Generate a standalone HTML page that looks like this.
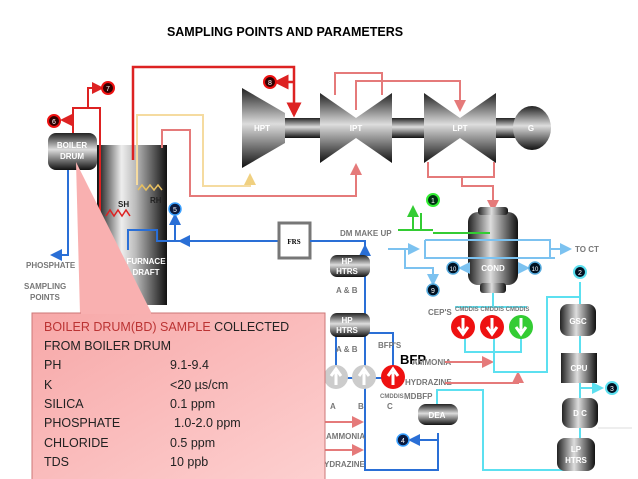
<!DOCTYPE html>
<html><head><meta charset="utf-8"><style>
html,body{margin:0;padding:0;background:#fff;}
svg{display:block;font-family:"Liberation Sans",Arial,sans-serif;}
.lb{font-size:8px;font-weight:bold;fill:#777;}
.w{font-size:8px;font-weight:bold;fill:#fff;}
</style></head><body>
<svg width="638" height="479" viewBox="0 0 638 479" xmlns="http://www.w3.org/2000/svg">
<defs>
<linearGradient id="cy" x1="0" y1="0" x2="0" y2="1"><stop offset="0" stop-color="#222"/><stop offset="0.45" stop-color="#ddd"/><stop offset="1" stop-color="#111"/></linearGradient>
<linearGradient id="cx" x1="0" y1="0" x2="1" y2="0"><stop offset="0" stop-color="#222"/><stop offset="0.45" stop-color="#ddd"/><stop offset="1" stop-color="#111"/></linearGradient>
<linearGradient id="fur" x1="0" y1="0" x2="1" y2="0"><stop offset="0" stop-color="#111"/><stop offset="0.35" stop-color="#eee"/><stop offset="0.55" stop-color="#bbb"/><stop offset="1" stop-color="#111"/></linearGradient>
<linearGradient id="pk" x1="0" y1="0" x2="1" y2="1"><stop offset="0" stop-color="#f7a8a8"/><stop offset="1" stop-color="#fdd0d0"/></linearGradient>
<marker id="ar" markerWidth="6" markerHeight="6" refX="5" refY="3" orient="auto"><path d="M0,0L6,3L0,6z" fill="#d22"/></marker>
<marker id="as" markerWidth="6" markerHeight="6" refX="5" refY="3" orient="auto"><path d="M0,0L6,3L0,6z" fill="#e57a7a"/></marker>
<marker id="ab" markerWidth="6" markerHeight="6" refX="5" refY="3" orient="auto"><path d="M0,0L6,3L0,6z" fill="#2a6fd6"/></marker>
<marker id="ac" markerWidth="6" markerHeight="6" refX="5" refY="3" orient="auto"><path d="M0,0L6,3L0,6z" fill="#5ce0f0"/></marker>
<marker id="al" markerWidth="6" markerHeight="6" refX="5" refY="3" orient="auto"><path d="M0,0L6,3L0,6z" fill="#7cc2f0"/></marker>
<marker id="ag" markerWidth="6" markerHeight="6" refX="5" refY="3" orient="auto"><path d="M0,0L6,3L0,6z" fill="#3c3"/></marker>
<marker id="ay" markerWidth="6" markerHeight="6" refX="5" refY="3" orient="auto"><path d="M0,0L6,3L0,6z" fill="#f0d080"/></marker>
</defs>
<text x="285" y="36" text-anchor="middle" font-size="12.5" font-weight="bold">SAMPLING POINTS AND PARAMETERS</text>

<!-- furnace -->
<rect x="97" y="145" width="70" height="160" fill="url(#fur)"/>
<!-- red steam -->
<polyline points="133,160 133,67 294,67 294,115" fill="none" stroke="#d22" stroke-width="2.5" marker-end="url(#ar)"/>
<polyline points="294,82 276,82" fill="none" stroke="#d22" stroke-width="2.5" marker-end="url(#ar)"/>
<polyline points="73,133 73,108 100,108 100,220" fill="none" stroke="#d22" stroke-width="2"/>
<polyline points="88,108 88,88 102,88" fill="none" stroke="#d22" stroke-width="2" marker-end="url(#ar)"/>
<polyline points="73,120 62,120" fill="none" stroke="#d22" stroke-width="2" marker-end="url(#ar)"/>
<polyline points="106,216 110,210 114,216 118,210 122,216 126,210 130,216" fill="none" stroke="#d22" stroke-width="1.5"/>
<!-- reheat -->
<polyline points="162,148 162,130 190,130 190,196 356,196 356,165" fill="none" stroke="#e57a7a" stroke-width="2" marker-end="url(#as)"/>
<polyline points="137,185 137,115 203,115 203,186 250,186 250,175" fill="none" stroke="#f5dba0" stroke-width="2" marker-end="url(#ay)"/>
<polyline points="138,190 142,185 146,190 150,185 154,190 158,185 162,190" fill="none" stroke="#e8c060" stroke-width="1.5"/>
<polyline points="335,95 335,73 382,73 382,95" fill="none" stroke="#e57a7a" stroke-width="2"/>
<polyline points="356,110 356,81 460,81 460,110" fill="none" stroke="#e57a7a" stroke-width="2" marker-end="url(#as)"/>
<polyline points="428,162 428,177 494,177 494,162" fill="none" stroke="#e57a7a" stroke-width="2"/>
<polyline points="462,177 462,186 493,186 493,210" fill="none" stroke="#e57a7a" stroke-width="2" marker-end="url(#as)"/>
<!-- turbines -->
<rect x="285" y="118" width="250" height="20" fill="url(#cy)"/>
<polygon points="242,88 285,113 285,143 242,168" fill="url(#cy)"/>
<polygon points="320,93 356,118 392,93 392,163 356,138 320,163" fill="url(#cy)"/>
<polygon points="424,93 460,118 496,93 496,163 460,138 424,163" fill="url(#cy)"/>
<ellipse cx="532" cy="128" rx="19" ry="22" fill="url(#cy)"/>
<text x="262" y="131" class="w" text-anchor="middle">HPT</text>
<text x="356" y="131" class="w" text-anchor="middle">IPT</text>
<text x="460" y="131" class="w" text-anchor="middle">LPT</text>
<text x="531" y="131" class="w" text-anchor="middle">G</text>
<!-- boiler drum -->
<rect x="48" y="133" width="49" height="37" rx="8" fill="url(#cy)"/>
<text x="72" y="148" class="w" text-anchor="middle" fill="#fff">BOILER</text>
<text x="72" y="159" class="w" text-anchor="middle">DRUM</text>
<text x="118" y="207" class="w" fill="#222" style="fill:#222">SH</text>
<text x="150" y="203" class="w" style="fill:#222">RH</text>
<text x="146" y="264" class="w" text-anchor="middle">FURNACE</text>
<text x="146" y="275" class="w" text-anchor="middle">DRAFT</text>
<!-- blue feed -->
<polyline points="68,170 68,255 52,255" fill="none" stroke="#2a6fd6" stroke-width="2" marker-end="url(#ab)"/>
<polyline points="300,241 157,241 157,230 128,230 128,250" fill="none" stroke="#2a6fd6" stroke-width="2"/>
<polyline points="175,241 175,215" fill="none" stroke="#2a6fd6" stroke-width="2" marker-end="url(#ab)"/>
<polyline points="186,241 180,241" fill="none" stroke="#2a6fd6" stroke-width="2" marker-end="url(#ab)"/>
<circle cx="175" cy="209" r="6" fill="#0a1a40" stroke="#3aa0ff" stroke-width="1.5"/><text x="175" y="212" font-size="7" fill="#fff" text-anchor="middle">5</text>
<rect x="279" y="223" width="31" height="35" fill="#fff" stroke="#777" stroke-width="3"/>
<text x="294" y="244" font-size="7" font-family="Liberation Serif" font-weight="bold" text-anchor="middle">FRS</text>
<polyline points="310,241 365,241 365,470 438,470 438,433" fill="none" stroke="#2a6fd6" stroke-width="2"/>
<line x1="365" y1="260" x2="365" y2="246" stroke="#2a6fd6" stroke-width="2" marker-end="url(#ab)"/>
<rect x="336" y="333" width="57" height="45" fill="none" stroke="#2a6fd6" stroke-width="2"/>
<polyline points="438,440 410,440" fill="none" stroke="#2a6fd6" stroke-width="2" marker-end="url(#ab)"/>
<circle cx="403" cy="440" r="6" fill="#0a1a40" stroke="#3aa0ff" stroke-width="1.5"/><text x="403" y="443" font-size="7" fill="#fff" text-anchor="middle">4</text>
<!-- heaters -->
<rect x="330" y="255" width="40" height="22" rx="7" fill="url(#cy)"/>
<text x="347" y="264" class="w" text-anchor="middle">HP</text><text x="347" y="274" class="w" text-anchor="middle">HTRS</text>
<text x="336" y="293" class="lb">A &amp; B</text>
<rect x="330" y="313" width="40" height="24" rx="7" fill="url(#cy)"/>
<text x="347" y="323" class="w" text-anchor="middle">HP</text><text x="347" y="333" class="w" text-anchor="middle">HTRS</text>
<text x="336" y="352" class="lb">A &amp; B</text>
<text x="378" y="348" class="lb">BFP'S</text>
<!-- pumps -->
<circle cx="336" cy="377" r="12" fill="#ccc"/><path d="M336,385V372M331,376L336,369L341,376" stroke="#fff" stroke-width="3" fill="none"/>
<circle cx="364" cy="377" r="12" fill="#ccc"/><path d="M364,385V372M359,376L364,369L369,376" stroke="#fff" stroke-width="3" fill="none"/>
<circle cx="393" cy="377" r="12" fill="#e11"/><path d="M393,385V372M388,376L393,369L398,376" stroke="#fff" stroke-width="3" fill="none"/>
<text x="330" y="409" class="lb">A</text><text x="358" y="409" class="lb">B</text><text x="387" y="409" class="lb">C</text>
<text x="380" y="398" font-size="6" fill="#777" font-weight="bold">CMDDIS</text>
<text x="404" y="399" class="lb">MDBFP</text>
<text x="400" y="364" font-size="13" font-weight="bold">BFP</text>
<text x="412" y="365" class="lb">AMMONIA</text>
<text x="405" y="385" class="lb">HYDRAZINE</text>
<polyline points="445,362 492,362" stroke="#e57a7a" stroke-width="2" marker-end="url(#as)"/>
<polyline points="445,383 518,383 518,373" fill="none" stroke="#e57a7a" stroke-width="2" marker-end="url(#as)"/>
<rect x="418" y="404" width="40" height="21" rx="8" fill="url(#cy)"/>
<text x="437" y="418" class="w" text-anchor="middle">DEA</text>
<!-- condenser -->
<polyline points="398,230 421,230 421,213" fill="none" stroke="#3c3" stroke-width="2"/>
<polyline points="413,230 413,207" fill="none" stroke="#3c3" stroke-width="2" marker-end="url(#ag)"/>
<circle cx="433" cy="200" r="6" fill="#031" stroke="#3e3" stroke-width="2"/><text x="433" y="203" font-size="7" fill="#fff" text-anchor="middle">1</text>
<line x1="408" y1="230" x2="433" y2="230" stroke="#3c3" stroke-width="2"/>
<rect x="468" y="212" width="50" height="73" rx="10" fill="url(#cx)"/>
<rect x="478" y="207" width="30" height="8" rx="3" fill="url(#cx)"/>
<rect x="480" y="283" width="26" height="10" rx="3" fill="url(#cx)"/>
<line x1="433" y1="233" x2="490" y2="233" stroke="#3c3" stroke-width="2"/>
<text x="493" y="271" class="w" text-anchor="middle">COND</text>
<text x="340" y="236" class="lb">DM MAKE UP</text>
<polyline points="388,249 418,249" stroke="#7cc2f0" stroke-width="2" marker-end="url(#al)"/>
<polyline points="425,240 425,258 555,258" fill="none" stroke="#7cc2f0" stroke-width="2"/>
<polyline points="425,240 550,240 550,258" fill="none" stroke="#7cc2f0" stroke-width="2"/>
<polyline points="550,249 570,249" stroke="#7cc2f0" stroke-width="2" marker-end="url(#al)"/>
<text x="575" y="252" class="lb">TO CT</text>
<polyline points="405,249 405,268 433,268 433,284" fill="none" stroke="#7cc2f0" stroke-width="2" marker-end="url(#al)"/>
<circle cx="433" cy="290" r="6" fill="#012" stroke="#5ad" stroke-width="1.5"/><text x="433" y="293" font-size="7" fill="#fff" text-anchor="middle">9</text>
<polyline points="468,268 460,268" stroke="#7cc2f0" stroke-width="2" marker-end="url(#al)"/>
<circle cx="453" cy="268" r="6" fill="#012" stroke="#5ad" stroke-width="1.5"/><text x="453" y="271" font-size="6" fill="#fff" text-anchor="middle">10</text>
<polyline points="518,268 528,268" stroke="#7cc2f0" stroke-width="2" marker-end="url(#al)"/>
<circle cx="535" cy="268" r="6" fill="#012" stroke="#5ad" stroke-width="1.5"/><text x="535" y="271" font-size="6" fill="#fff" text-anchor="middle">10</text>
<!-- CEP -->
<polyline points="493,293 493,308" stroke="#5ce0f0" stroke-width="2"/>
<line x1="455" y1="307" x2="527" y2="307" stroke="#5ce0f0" stroke-width="2"/>
<polyline points="465,338 465,352 521,352 521,338" fill="none" stroke="#5ce0f0" stroke-width="2"/>
<polyline points="494,338 494,372 547,372 547,297 580,297" fill="none" stroke="#5ce0f0" stroke-width="2"/>
<circle cx="463" cy="327" r="12" fill="#e11"/><path d="M463,318V331M458,327L463,334L468,327" stroke="#fff" stroke-width="3" fill="none"/>
<circle cx="492" cy="327" r="12" fill="#e11"/><path d="M492,318V331M487,327L492,334L497,327" stroke="#fff" stroke-width="3" fill="none"/>
<circle cx="521" cy="327" r="12" fill="#3c3"/><path d="M521,318V331M516,327L521,334L526,327" stroke="#fff" stroke-width="3" fill="none"/>
<text x="428" y="315" class="lb">CEP'S</text>
<text x="455" y="311" font-size="6" fill="#777" font-weight="bold">CMDDIS CMDDIS CMDDIS</text>
<!-- right column -->
<polyline points="580,282 580,305" stroke="#5ce0f0" stroke-width="2"/>
<circle cx="580" cy="272" r="6" fill="#012" stroke="#5ce0f0" stroke-width="2"/><text x="580" y="275" font-size="7" fill="#fff" text-anchor="middle">2</text>
<line x1="580" y1="335" x2="580" y2="353" stroke="#5ce0f0" stroke-width="2"/>
<polyline points="580,383 580,470 483,470 483,390 437,390 437,404" fill="none" stroke="#5ce0f0" stroke-width="2"/>
<polyline points="580,388 602,388" stroke="#5ce0f0" stroke-width="2" marker-end="url(#ac)"/>
<circle cx="612" cy="388" r="6" fill="#012" stroke="#5ce0f0" stroke-width="2"/><text x="612" y="391" font-size="7" fill="#fff" text-anchor="middle">3</text>
<rect x="560" y="304" width="36" height="32" rx="8" fill="url(#cx)"/><text x="578" y="324" class="w" text-anchor="middle">GSC</text>
<rect x="561" y="353" width="36" height="30" fill="url(#cx)"/><text x="579" y="371" class="w" text-anchor="middle">CPU</text>
<rect x="562" y="398" width="36" height="30" rx="8" fill="url(#cx)"/><text x="580" y="416" class="w" text-anchor="middle">D C</text>
<rect x="557" y="438" width="38" height="33" rx="8" fill="url(#cx)"/><text x="576" y="452" class="w" text-anchor="middle">LP</text><text x="576" y="463" class="w" text-anchor="middle">HTRS</text>
<line x1="598" y1="428" x2="632" y2="428" stroke="#ddd"/>
<!-- ammonia/hydrazine left -->
<polyline points="325,422 362,422" stroke="#e57a7a" stroke-width="2" marker-end="url(#as)"/>
<polyline points="325,450 362,450" stroke="#e57a7a" stroke-width="2" marker-end="url(#as)"/>
<text x="326" y="439" class="lb">AMMONIA</text>
<text x="324" y="467" class="lb">YDRAZINE</text>
<text x="26" y="268" class="lb">PHOSPHATE</text>
<text x="24" y="289" class="lb">SAMPLING</text>
<text x="30" y="300" class="lb">POINTS</text>
<!-- sample points 6,7,8 -->
<circle cx="54" cy="121" r="6" fill="#300" stroke="#e11" stroke-width="2"/><text x="54" y="124" font-size="7" fill="#fff" text-anchor="middle">6</text>
<circle cx="108" cy="88" r="6" fill="#300" stroke="#e11" stroke-width="2"/><text x="108" y="91" font-size="7" fill="#fff" text-anchor="middle">7</text>
<circle cx="270" cy="82" r="6" fill="#300" stroke="#e11" stroke-width="2"/><text x="270" y="85" font-size="7" fill="#fff" text-anchor="middle">8</text>
<!-- callout -->
<polygon points="76,162 80,314 152,314" fill="#f9b0b0"/>
<rect x="32" y="313" width="293" height="170" fill="url(#pk)" stroke="#c77" stroke-width="1"/>
<line x1="81" y1="313" x2="151" y2="313" stroke="#f9b0b0" stroke-width="2"/>
<g font-size="12.5" fill="#222">
<text x="44" y="331"><tspan fill="#b33">BOILER DRUM(BD) SAMPLE</tspan> COLLECTED</text>
<text x="44" y="350">FROM BOILER DRUM</text>
<text x="44" y="369">PH</text><text x="170" y="369">9.1-9.4</text>
<text x="44" y="389">K</text><text x="170" y="389">&lt;20 µs/cm</text>
<text x="44" y="408">SILICA</text><text x="170" y="408">0.1 ppm</text>
<text x="44" y="427">PHOSPHATE</text><text x="174" y="427">1.0-2.0 ppm</text>
<text x="44" y="447">CHLORIDE</text><text x="170" y="447">0.5 ppm</text>
<text x="44" y="466">TDS</text><text x="170" y="466">10 ppb</text>
</g>
</svg>
</body></html>
